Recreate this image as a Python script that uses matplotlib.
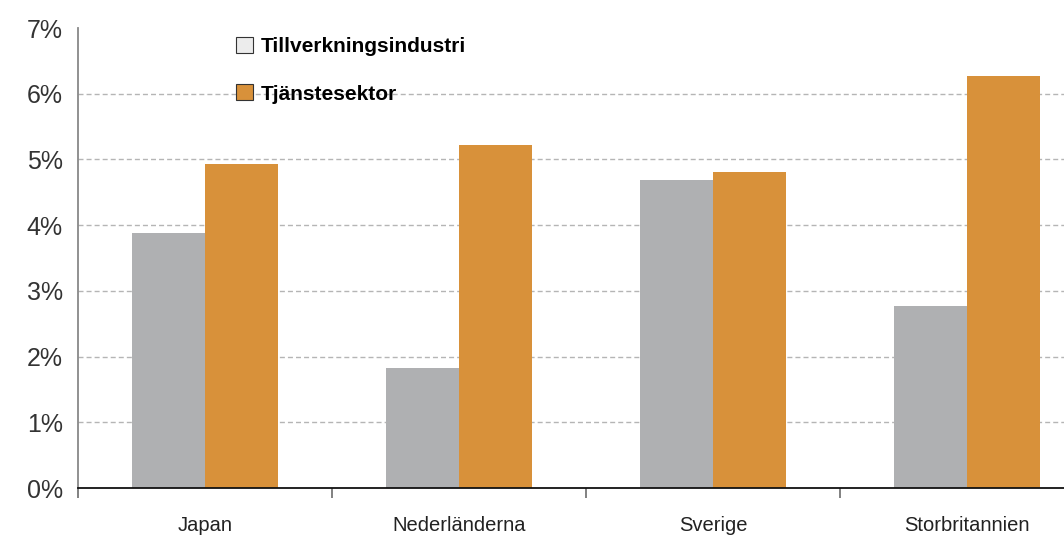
import matplotlib
matplotlib.use("Agg")
import matplotlib.pyplot as plt
from matplotlib.patches import Patch
import numpy as np

plt.rcParams["font.family"] = ["Liberation Sans", "DejaVu Sans"]

countries = ["Japan", "Nederländerna", "Sverige", "Storbritannien"]
manufacturing = [3.88, 1.83, 4.69, 2.77]
services = [4.93, 5.22, 4.81, 6.27]
series_labels = ["Tillverkningsindustri", "Tjänstesektor"]
y_ticks = [0, 1, 2, 3, 4, 5, 6, 7]

gray = "#afb0b2"
orange = "#d8913a"
width = 0.287

fig = plt.figure(figsize=(10.64, 5.35), dpi=100)
ax = fig.add_axes([78 / 1064, 1 - 488 / 535, 1 - 78 / 1064, (488 - 28) / 535])

centers = np.arange(len(countries)) + 0.5
ax.bar(centers - width / 2, manufacturing, width, color=gray, zorder=2)
ax.bar(centers + width / 2, services, width, color=orange, zorder=2)

ax.set_yticks(y_ticks)
ax.set_yticklabels([f"{v}%" for v in y_ticks], fontsize=18, color="#333333")
ax.tick_params(axis="y", length=0, pad=11)

ax.set_xticks(np.arange(len(countries) + 1))
ax.set_xticklabels([])
ax.set_xticks(centers, minor=True)
ax.set_xticklabels(countries, minor=True, fontsize=14.5, color="#222222")
ax.tick_params(axis="x", which="major", length=7, width=1.3, color="#777777")
ax.tick_params(axis="x", which="minor", length=0, pad=20.5)

# set limits after the ticks so the tick at 4 does not widen the view
ax.set_xlim(0, (1064 - 78) / 254)
ax.set_ylim(0, 7)

ax.yaxis.grid(True, color="#b5b5b5", linewidth=1, dashes=(3.6, 2.2), zorder=0)
ax.get_ygridlines()[-1].set_visible(False)
ax.get_ygridlines()[0].set_visible(False)
ax.set_axisbelow(True)

for side in ["top", "right"]:
    ax.spines[side].set_visible(False)
ax.spines["left"].set_color("#888888")
ax.spines["left"].set_linewidth(1.3)
ax.spines["bottom"].set_color("#111111")
ax.spines["bottom"].set_linewidth(1.3)
ax.spines["bottom"].set_zorder(3)

handles = [
    Patch(facecolor="#ececec", edgecolor="#333333", linewidth=0.8),
    Patch(facecolor=orange, edgecolor="#333333", linewidth=0.8),
]
leg = fig.legend(
    handles, series_labels,
    loc="upper left", bbox_to_anchor=(236 / 1064, 1 - 37 / 535),
    frameon=False, borderpad=0, borderaxespad=0,
    handlelength=0.8, handleheight=0.8, handletextpad=0.4,
    labelspacing=1.35, prop={"weight": "bold", "size": 15},
)

fig.savefig("out.png", dpi=100)
